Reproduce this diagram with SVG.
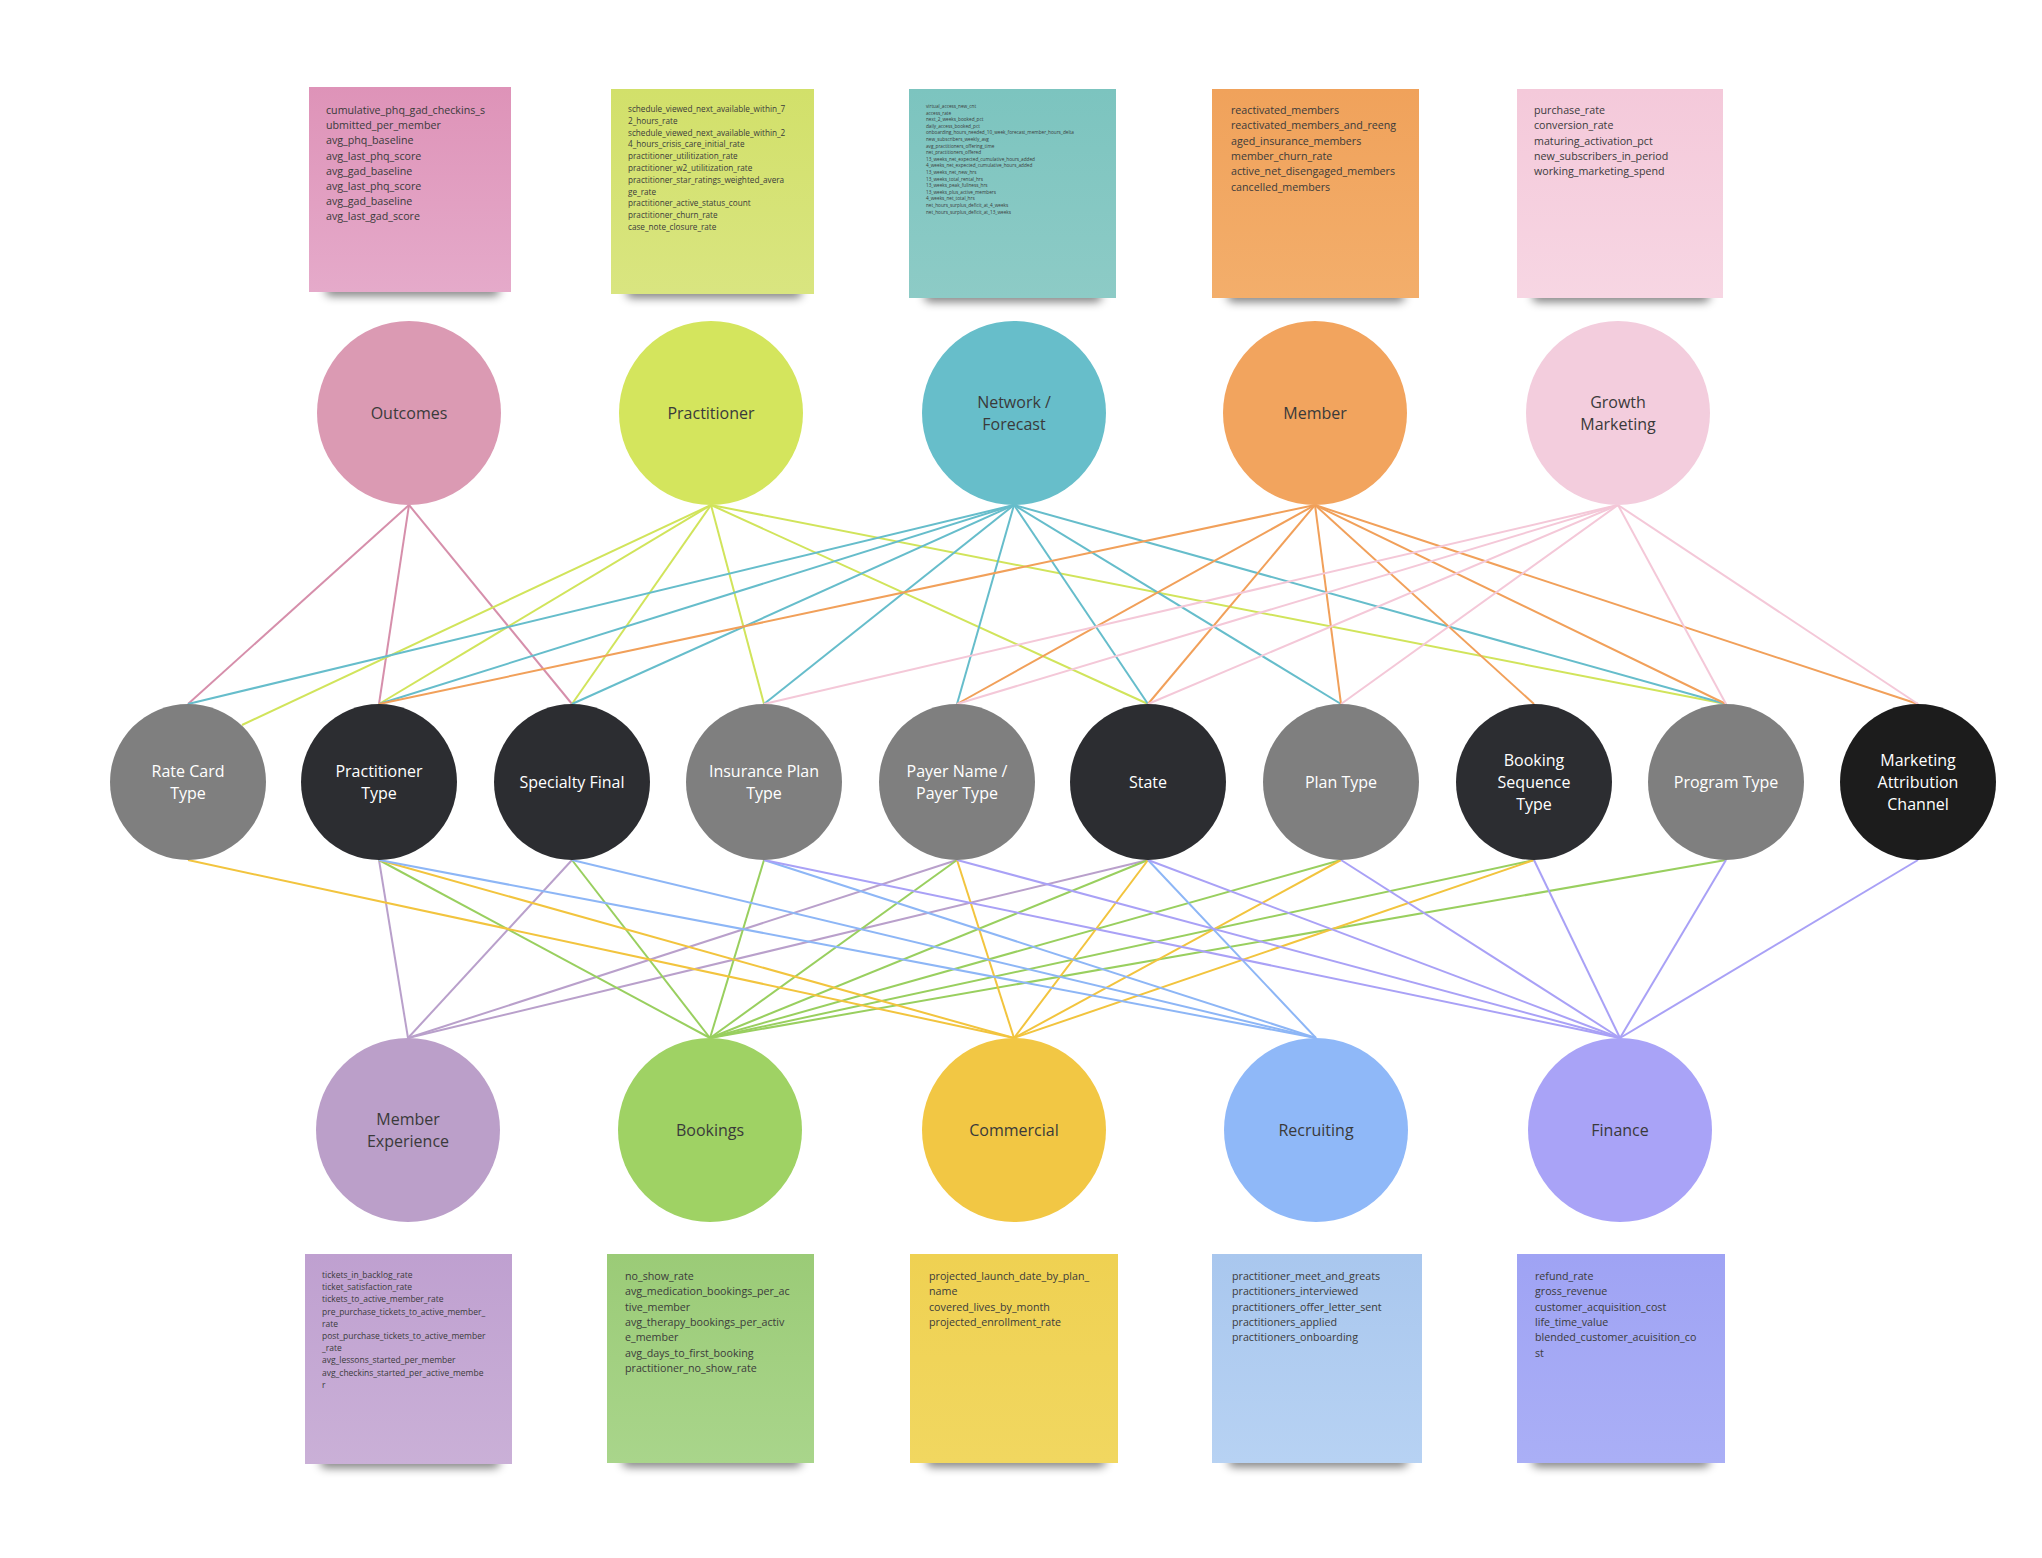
<svg xmlns="http://www.w3.org/2000/svg" width="2042" height="1558" viewBox="0 0 2042 1558">
<defs>
<filter id="sh" x="-20%" y="-200%" width="140%" height="500%"><feGaussianBlur stdDeviation="5"/></filter>
<linearGradient id="gOut" x1="0" y1="0" x2="0" y2="1"><stop offset="0" stop-color="#DE93B8"/><stop offset="1" stop-color="#E5AACA"/></linearGradient>
<linearGradient id="gPra" x1="0" y1="0" x2="0" y2="1"><stop offset="0" stop-color="#D2E06A"/><stop offset="1" stop-color="#D9E580"/></linearGradient>
<linearGradient id="gNet" x1="0" y1="0" x2="0" y2="1"><stop offset="0" stop-color="#7CC4BF"/><stop offset="1" stop-color="#8DCBC6"/></linearGradient>
<linearGradient id="gMem" x1="0" y1="0" x2="0" y2="1"><stop offset="0" stop-color="#F0A25B"/><stop offset="1" stop-color="#F3AE6B"/></linearGradient>
<linearGradient id="gGro" x1="0" y1="0" x2="0" y2="1"><stop offset="0" stop-color="#F4C9DA"/><stop offset="1" stop-color="#F7D6E3"/></linearGradient>
<linearGradient id="gME" x1="0" y1="0" x2="0" y2="1"><stop offset="0" stop-color="#BFA0D0"/><stop offset="1" stop-color="#CAB0D7"/></linearGradient>
<linearGradient id="gBK" x1="0" y1="0" x2="0" y2="1"><stop offset="0" stop-color="#9BCB77"/><stop offset="1" stop-color="#A9D58B"/></linearGradient>
<linearGradient id="gCM" x1="0" y1="0" x2="0" y2="1"><stop offset="0" stop-color="#EFD152"/><stop offset="1" stop-color="#F1D760"/></linearGradient>
<linearGradient id="gRC" x1="0" y1="0" x2="0" y2="1"><stop offset="0" stop-color="#A9C7EE"/><stop offset="1" stop-color="#B7D2F3"/></linearGradient>
<linearGradient id="gFN" x1="0" y1="0" x2="0" y2="1"><stop offset="0" stop-color="#9FA3F4"/><stop offset="1" stop-color="#AAAFF6"/></linearGradient>
</defs>
<style>
.lbl{font-family:"Open Sans","Liberation Sans",sans-serif;font-size:16px;text-anchor:middle}
.dk{fill:#3a3a3a}
.wt{fill:#ffffff}
.nt{font-family:"Open Sans","Liberation Sans",sans-serif;fill:#3b3b3b}
.n1{font-size:10.7px}
.n2{font-size:8.2px}
.n3{font-size:4.7px}
.n4{font-size:8.5px}
.shadow{fill:#000;opacity:0.5;filter:url(#sh)}
.c line{fill:none;stroke-width:2}
.lOut{stroke:#D68FAB}
.lPra{stroke:#D1E45B}
.lNet{stroke:#66BDCB}
.lMem{stroke:#F1A05A}
.lGro{stroke:#F4C8D8}
.lME{stroke:#B9A0CB}
.lBK{stroke:#99CF5F}
.lCM{stroke:#F2C43E}
.lRC{stroke:#8DB6F6}
.lFN{stroke:#A9A1F6}
.grey{fill:#7F7F7F}
.dark{fill:#2C2D31}
.blk{fill:#1C1C1C}
</style>
<rect x="0" y="0" width="2042" height="1558" fill="#ffffff"/>

<!-- sticky notes top -->
<g id="note-outcomes">
<rect class="shadow" x="325" y="284" width="175" height="12" rx="6"/>
<rect x="309" y="87" width="202" height="205" fill="url(#gOut)"/>
<text class="nt n1" x="326" y="114">
<tspan x="326" dy="0">cumulative_phq_gad_checkins_s</tspan>
<tspan x="326" dy="15.2">ubmitted_per_member</tspan>
<tspan x="326" dy="15.2">avg_phq_baseline</tspan>
<tspan x="326" dy="15.2">avg_last_phq_score</tspan>
<tspan x="326" dy="15.2">avg_gad_baseline</tspan>
<tspan x="326" dy="15.2">avg_last_phq_score</tspan>
<tspan x="326" dy="15.2">avg_gad_baseline</tspan>
<tspan x="326" dy="15.2">avg_last_gad_score</tspan>
</text>
</g>
<g id="note-practitioner">
<rect class="shadow" x="626" y="286" width="176" height="12" rx="6"/>
<rect x="611" y="89" width="203" height="205" fill="url(#gPra)"/>
<text class="nt n2" x="628" y="112">
<tspan x="628" dy="0">schedule_viewed_next_available_within_7</tspan>
<tspan x="628" dy="11.8">2_hours_rate</tspan>
<tspan x="628" dy="11.8">schedule_viewed_next_available_within_2</tspan>
<tspan x="628" dy="11.8">4_hours_crisis_care_initial_rate</tspan>
<tspan x="628" dy="11.8">practitioner_utilitization_rate</tspan>
<tspan x="628" dy="11.8">practitioner_w2_utilitization_rate</tspan>
<tspan x="628" dy="11.8">practitioner_star_ratings_weighted_avera</tspan>
<tspan x="628" dy="11.8">ge_rate</tspan>
<tspan x="628" dy="11.8">practitioner_active_status_count</tspan>
<tspan x="628" dy="11.8">practitioner_churn_rate</tspan>
<tspan x="628" dy="11.8">case_note_closure_rate</tspan>
</text>
</g>
<g id="note-network">
<rect class="shadow" x="924" y="290" width="178" height="12" rx="6"/>
<rect x="909" y="89" width="207" height="209" fill="url(#gNet)"/>
<text class="nt n3" x="926" y="108">
<tspan x="926" dy="0">virtual_access_new_cnt</tspan>
<tspan x="926" dy="6.6">access_rate</tspan>
<tspan x="926" dy="6.6">next_2_weeks_booked_pct</tspan>
<tspan x="926" dy="6.6">daily_access_booked_pct</tspan>
<tspan x="926" dy="6.6">onboarding_hours_needed_10_week_forecast_member_hours_delta</tspan>
<tspan x="926" dy="6.6">new_subscribers_weekly_avg</tspan>
<tspan x="926" dy="6.6">avg_practitioners_offering_time</tspan>
<tspan x="926" dy="6.6">net_practitioners_offered</tspan>
<tspan x="926" dy="6.6">13_weeks_net_expected_cumulative_hours_added</tspan>
<tspan x="926" dy="6.6">4_weeks_net_expected_cumulative_hours_added</tspan>
<tspan x="926" dy="6.6">13_weeks_net_new_hrs</tspan>
<tspan x="926" dy="6.6">13_weeks_total_rental_hrs</tspan>
<tspan x="926" dy="6.6">13_weeks_peak_fullness_hrs</tspan>
<tspan x="926" dy="6.6">13_weeks_plus_active_members</tspan>
<tspan x="926" dy="6.6">4_weeks_net_total_hrs</tspan>
<tspan x="926" dy="6.6">net_hours_surplus_deficit_at_4_weeks</tspan>
<tspan x="926" dy="6.6">net_hours_surplus_deficit_at_13_weeks</tspan>
</text>
</g>
<g id="note-member">
<rect class="shadow" x="1227" y="290" width="178" height="12" rx="6"/>
<rect x="1212" y="89" width="207" height="209" fill="url(#gMem)"/>
<text class="nt n1" x="1231" y="114">
<tspan x="1231" dy="0">reactivated_members</tspan>
<tspan x="1231" dy="15.3">reactivated_members_and_reeng</tspan>
<tspan x="1231" dy="15.3">aged_insurance_members</tspan>
<tspan x="1231" dy="15.3">member_churn_rate</tspan>
<tspan x="1231" dy="15.3">active_net_disengaged_members</tspan>
<tspan x="1231" dy="15.3">cancelled_members</tspan>
</text>
</g>
<g id="note-growth">
<rect class="shadow" x="1532" y="290" width="178" height="12" rx="6"/>
<rect x="1517" y="89" width="206" height="209" fill="url(#gGro)"/>
<text class="nt n1" x="1534" y="114">
<tspan x="1534" dy="0">purchase_rate</tspan>
<tspan x="1534" dy="15.3">conversion_rate</tspan>
<tspan x="1534" dy="15.3">maturing_activation_pct</tspan>
<tspan x="1534" dy="15.3">new_subscribers_in_period</tspan>
<tspan x="1534" dy="15.3">working_marketing_spend</tspan>
</text>
</g>

<!-- sticky notes bottom -->
<g id="note-member-experience">
<rect class="shadow" x="320" y="1456" width="180" height="12" rx="6"/>
<rect x="305" y="1254" width="207" height="210" fill="url(#gME)"/>
<text class="nt n4" x="322" y="1278">
<tspan x="322" dy="0">tickets_in_backlog_rate</tspan>
<tspan x="322" dy="12.2">ticket_satisfaction_rate</tspan>
<tspan x="322" dy="12.2">tickets_to_active_member_rate</tspan>
<tspan x="322" dy="12.2">pre_purchase_tickets_to_active_member_</tspan>
<tspan x="322" dy="12.2">rate</tspan>
<tspan x="322" dy="12.2">post_purchase_tickets_to_active_member</tspan>
<tspan x="322" dy="12.2">_rate</tspan>
<tspan x="322" dy="12.2">avg_lessons_started_per_member</tspan>
<tspan x="322" dy="12.2">avg_checkins_started_per_active_membe</tspan>
<tspan x="322" dy="12.2">r</tspan>
</text>
</g>
<g id="note-bookings">
<rect class="shadow" x="622" y="1455" width="180" height="12" rx="6"/>
<rect x="607" y="1254" width="207" height="209" fill="url(#gBK)"/>
<text class="nt n1" x="625" y="1280">
<tspan x="625" dy="0">no_show_rate</tspan>
<tspan x="625" dy="15.3">avg_medication_bookings_per_ac</tspan>
<tspan x="625" dy="15.3">tive_member</tspan>
<tspan x="625" dy="15.3">avg_therapy_bookings_per_activ</tspan>
<tspan x="625" dy="15.3">e_member</tspan>
<tspan x="625" dy="15.3">avg_days_to_first_booking</tspan>
<tspan x="625" dy="15.3">practitioner_no_show_rate</tspan>
</text>
</g>
<g id="note-commercial">
<rect class="shadow" x="926" y="1455" width="180" height="12" rx="6"/>
<rect x="910" y="1254" width="208" height="209" fill="url(#gCM)"/>
<text class="nt n1" x="929" y="1280">
<tspan x="929" dy="0">projected_launch_date_by_plan_</tspan>
<tspan x="929" dy="15.3">name</tspan>
<tspan x="929" dy="15.3">covered_lives_by_month</tspan>
<tspan x="929" dy="15.3">projected_enrollment_rate</tspan>
</text>
</g>
<g id="note-recruiting">
<rect class="shadow" x="1228" y="1455" width="180" height="12" rx="6"/>
<rect x="1212" y="1254" width="210" height="209" fill="url(#gRC)"/>
<text class="nt n1" x="1232" y="1280">
<tspan x="1232" dy="0">practitioner_meet_and_greats</tspan>
<tspan x="1232" dy="15.3">practitioners_interviewed</tspan>
<tspan x="1232" dy="15.3">practitioners_offer_letter_sent</tspan>
<tspan x="1232" dy="15.3">practitioners_applied</tspan>
<tspan x="1232" dy="15.3">practitioners_onboarding</tspan>
</text>
</g>
<g id="note-finance">
<rect class="shadow" x="1532" y="1455" width="178" height="12" rx="6"/>
<rect x="1517" y="1254" width="208" height="209" fill="url(#gFN)"/>
<text class="nt n1" x="1535" y="1280">
<tspan x="1535" dy="0">refund_rate</tspan>
<tspan x="1535" dy="15.3">gross_revenue</tspan>
<tspan x="1535" dy="15.3">customer_acquisition_cost</tspan>
<tspan x="1535" dy="15.3">life_time_value</tspan>
<tspan x="1535" dy="15.3">blended_customer_acuisition_co</tspan>
<tspan x="1535" dy="15.3">st</tspan>
</text>
</g>

<!-- connectors -->
<g id="connectors" class="c">
<!-- Outcomes -->
<line class="lOut" x1="409" y1="505" x2="188" y2="704"/>
<line class="lOut" x1="409" y1="505" x2="379" y2="704"/>
<line class="lOut" x1="409" y1="505" x2="572" y2="704"/>
<!-- Practitioner -->
<line class="lPra" x1="711" y1="505" x2="242" y2="725"/>
<line class="lPra" x1="711" y1="505" x2="379" y2="704"/>
<line class="lPra" x1="711" y1="505" x2="572" y2="704"/>
<line class="lPra" x1="711" y1="505" x2="764" y2="704"/>
<line class="lPra" x1="711" y1="505" x2="1148" y2="704"/>
<line class="lPra" x1="711" y1="505" x2="1726" y2="704"/>
<!-- Network -->
<line class="lNet" x1="1014" y1="505" x2="188" y2="704"/>
<line class="lNet" x1="1014" y1="505" x2="379" y2="704"/>
<line class="lNet" x1="1014" y1="505" x2="572" y2="704"/>
<line class="lNet" x1="1014" y1="505" x2="764" y2="704"/>
<line class="lNet" x1="1014" y1="505" x2="957" y2="704"/>
<line class="lNet" x1="1014" y1="505" x2="1148" y2="704"/>
<line class="lNet" x1="1014" y1="505" x2="1341" y2="704"/>
<line class="lNet" x1="1014" y1="505" x2="1726" y2="704"/>
<!-- Member -->
<line class="lMem" x1="1315" y1="505" x2="379" y2="704"/>
<line class="lMem" x1="1315" y1="505" x2="957" y2="704"/>
<line class="lMem" x1="1315" y1="505" x2="1148" y2="704"/>
<line class="lMem" x1="1315" y1="505" x2="1341" y2="704"/>
<line class="lMem" x1="1315" y1="505" x2="1534" y2="704"/>
<line class="lMem" x1="1315" y1="505" x2="1726" y2="704"/>
<line class="lMem" x1="1315" y1="505" x2="1918" y2="704"/>
<!-- Growth -->
<line class="lGro" x1="1618" y1="505" x2="764" y2="704"/>
<line class="lGro" x1="1618" y1="505" x2="957" y2="704"/>
<line class="lGro" x1="1618" y1="505" x2="1148" y2="704"/>
<line class="lGro" x1="1618" y1="505" x2="1341" y2="704"/>
<line class="lGro" x1="1618" y1="505" x2="1726" y2="704"/>
<line class="lGro" x1="1618" y1="505" x2="1918" y2="704"/>
<!-- Member Experience -->
<line class="lME" x1="379" y1="860" x2="408" y2="1038"/>
<line class="lME" x1="572" y1="860" x2="408" y2="1038"/>
<line class="lME" x1="957" y1="860" x2="408" y2="1038"/>
<line class="lME" x1="1148" y1="860" x2="408" y2="1038"/>
<!-- Bookings -->
<line class="lBK" x1="379" y1="860" x2="710" y2="1038"/>
<line class="lBK" x1="572" y1="860" x2="710" y2="1038"/>
<line class="lBK" x1="764" y1="860" x2="710" y2="1038"/>
<line class="lBK" x1="957" y1="860" x2="710" y2="1038"/>
<line class="lBK" x1="1148" y1="860" x2="710" y2="1038"/>
<line class="lBK" x1="1341" y1="860" x2="710" y2="1038"/>
<line class="lBK" x1="1534" y1="860" x2="710" y2="1038"/>
<line class="lBK" x1="1726" y1="860" x2="710" y2="1038"/>
<!-- Commercial -->
<line class="lCM" x1="188" y1="860" x2="1014" y2="1038"/>
<line class="lCM" x1="379" y1="860" x2="1014" y2="1038"/>
<line class="lCM" x1="957" y1="860" x2="1014" y2="1038"/>
<line class="lCM" x1="1148" y1="860" x2="1014" y2="1038"/>
<line class="lCM" x1="1341" y1="860" x2="1014" y2="1038"/>
<line class="lCM" x1="1534" y1="860" x2="1014" y2="1038"/>
<!-- Recruiting -->
<line class="lRC" x1="379" y1="860" x2="1316" y2="1038"/>
<line class="lRC" x1="572" y1="860" x2="1316" y2="1038"/>
<line class="lRC" x1="764" y1="860" x2="1316" y2="1038"/>
<line class="lRC" x1="1148" y1="860" x2="1316" y2="1038"/>
<!-- Finance -->
<line class="lFN" x1="764" y1="860" x2="1620" y2="1038"/>
<line class="lFN" x1="957" y1="860" x2="1620" y2="1038"/>
<line class="lFN" x1="1148" y1="860" x2="1620" y2="1038"/>
<line class="lFN" x1="1341" y1="860" x2="1620" y2="1038"/>
<line class="lFN" x1="1534" y1="860" x2="1620" y2="1038"/>
<line class="lFN" x1="1726" y1="860" x2="1620" y2="1038"/>
<line class="lFN" x1="1918" y1="860" x2="1620" y2="1038"/>
</g>

<!-- top nodes -->
<g id="node-outcomes"><circle cx="409" cy="413" r="92" fill="#DB9AB3"/><text class="lbl dk" x="409" y="419">Outcomes</text></g>
<g id="node-practitioner"><circle cx="711" cy="413" r="92" fill="#D4E55D"/><text class="lbl dk" x="711" y="419">Practitioner</text></g>
<g id="node-network-forecast"><circle cx="1014" cy="413" r="92" fill="#67BECA"/><text class="lbl dk" x="1014" y="408">Network /</text><text class="lbl dk" x="1014" y="430">Forecast</text></g>
<g id="node-member"><circle cx="1315" cy="413" r="92" fill="#F2A45E"/><text class="lbl dk" x="1315" y="419">Member</text></g>
<g id="node-growth-marketing"><circle cx="1618" cy="413" r="92" fill="#F3CDDD"/><text class="lbl dk" x="1618" y="408">Growth</text><text class="lbl dk" x="1618" y="430">Marketing</text></g>

<!-- middle nodes -->
<g id="node-rate-card-type"><circle cx="188" cy="782" r="78" class="grey"/><text class="lbl wt" x="188" y="777">Rate Card</text><text class="lbl wt" x="188" y="799">Type</text></g>
<g id="node-practitioner-type"><circle cx="379" cy="782" r="78" class="dark"/><text class="lbl wt" x="379" y="777">Practitioner</text><text class="lbl wt" x="379" y="799">Type</text></g>
<g id="node-specialty-final"><circle cx="572" cy="782" r="78" class="dark"/><text class="lbl wt" x="572" y="788">Specialty Final</text></g>
<g id="node-insurance-plan-type"><circle cx="764" cy="782" r="78" class="grey"/><text class="lbl wt" x="764" y="777">Insurance Plan</text><text class="lbl wt" x="764" y="799">Type</text></g>
<g id="node-payer"><circle cx="957" cy="782" r="78" class="grey"/><text class="lbl wt" x="957" y="777">Payer Name /</text><text class="lbl wt" x="957" y="799">Payer Type</text></g>
<g id="node-state"><circle cx="1148" cy="782" r="78" class="dark"/><text class="lbl wt" x="1148" y="788">State</text></g>
<g id="node-plan-type"><circle cx="1341" cy="782" r="78" class="grey"/><text class="lbl wt" x="1341" y="788">Plan Type</text></g>
<g id="node-booking-sequence-type"><circle cx="1534" cy="782" r="78" class="dark"/><text class="lbl wt" x="1534" y="766">Booking</text><text class="lbl wt" x="1534" y="788">Sequence</text><text class="lbl wt" x="1534" y="810">Type</text></g>
<g id="node-program-type"><circle cx="1726" cy="782" r="78" class="grey"/><text class="lbl wt" x="1726" y="788">Program Type</text></g>
<g id="node-marketing-attribution-channel"><circle cx="1918" cy="782" r="78" class="blk"/><text class="lbl wt" x="1918" y="766">Marketing</text><text class="lbl wt" x="1918" y="788">Attribution</text><text class="lbl wt" x="1918" y="810">Channel</text></g>

<!-- bottom nodes -->
<g id="node-member-experience"><circle cx="408" cy="1130" r="92" fill="#BB9FC9"/><text class="lbl dk" x="408" y="1125">Member</text><text class="lbl dk" x="408" y="1147">Experience</text></g>
<g id="node-bookings"><circle cx="710" cy="1130" r="92" fill="#9FD264"/><text class="lbl dk" x="710" y="1136">Bookings</text></g>
<g id="node-commercial"><circle cx="1014" cy="1130" r="92" fill="#F2C744"/><text class="lbl dk" x="1014" y="1136">Commercial</text></g>
<g id="node-recruiting"><circle cx="1316" cy="1130" r="92" fill="#8FB8F8"/><text class="lbl dk" x="1316" y="1136">Recruiting</text></g>
<g id="node-finance"><circle cx="1620" cy="1130" r="92" fill="#A9A3F7"/><text class="lbl dk" x="1620" y="1136">Finance</text></g>
</svg>
